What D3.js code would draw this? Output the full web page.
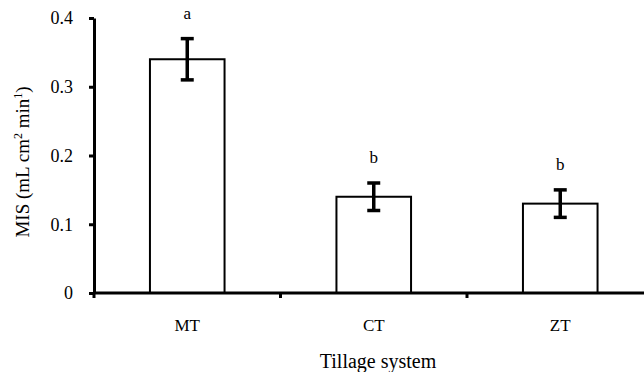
<!DOCTYPE html>
<html>
<head>
<meta charset="utf-8">
<script src="https://cdn.jsdelivr.net/npm/d3@7"></script>
<style>
  body { margin: 0; background: #fff; }
  svg text { font-family: "Liberation Serif", "Times New Roman", serif; fill: #000; }
</style>
</head>
<body>
<svg width="644" height="372"></svg>
<script>
// values
var categories = ["MT", "CT", "ZT"];
var means = [0.34, 0.14, 0.13];
var errors = [0.03, 0.02, 0.02];
var letters = ["a", "b", "b"];
var yTicks = [0, 0.1, 0.2, 0.3, 0.4];

var svg = d3.select("svg");

// note: "top" is taken by window.top, so plotTop
var plotLeft = 94, plotTop = 18, plotBottom = 293;

var x = d3.scaleBand()
    .domain(categories)
    .range([plotLeft, plotLeft + 3 * 186.5])
    .padding(0);

var y = d3.scaleLinear()
    .domain([0, 0.4])
    .range([plotBottom, plotTop]);

// bars
svg.selectAll("rect.bar")
    .data(means)
    .enter()
    .append("rect")
    .attr("class", "bar")
    .attr("x", function (d, i) { return x(categories[i]) + x.bandwidth() * 0.3; })
    .attr("width", x.bandwidth() * 0.4)
    .attr("y", function (d) { return y(d); })
    .attr("height", function (d) { return y(0) - y(d); })
    .attr("fill", "#fff")
    .attr("stroke", "#000")
    .attr("stroke-width", 2);

// error bars
var eb = svg.selectAll("g.err")
    .data(means)
    .enter()
    .append("g")
    .attr("class", "err")
    .attr("stroke", "#000")
    .attr("stroke-width", 3.5);

eb.append("line")
    .attr("x1", function (d, i) { return x(categories[i]) + x.bandwidth() / 2; })
    .attr("x2", function (d, i) { return x(categories[i]) + x.bandwidth() / 2; })
    .attr("y1", function (d, i) { return y(d + errors[i]); })
    .attr("y2", function (d, i) { return y(d - errors[i]); });

eb.each(function (d, i) {
    var cx = x(categories[i]) + x.bandwidth() / 2;
    var g = d3.select(this);
    [d + errors[i], d - errors[i]].forEach(function (v) {
        g.append("line")
            .attr("x1", cx - 6.5).attr("x2", cx + 6.5)
            .attr("y1", y(v)).attr("y2", y(v));
    });
});

// significance letters
svg.selectAll("text.letter")
    .data(letters)
    .enter()
    .append("text")
    .attr("class", "letter")
    .attr("x", function (d, i) { return x(categories[i]) + x.bandwidth() / 2; })
    .attr("y", function (d, i) { return y(means[i] + errors[i]) - 20; })
    .attr("text-anchor", "middle")
    .attr("font-size", 17)
    .text(function (d) { return d; });

// y axis
var yAxis = svg.append("g")
    .attr("transform", "translate(" + plotLeft + ",0)")
    .call(d3.axisLeft(y)
        .tickValues(yTicks)
        .tickSize(5)
        .tickSizeOuter(0)
        .tickPadding(16)
        .tickFormat(function (d) { return d === 0 ? "0" : d3.format(".1f")(d); }));
yAxis.selectAll("path, line").attr("stroke", "#000").attr("stroke-width", 3);
yAxis.selectAll("text").attr("font-size", 18).attr("font-family", "Liberation Serif");

// x axis: line plus ticks at category boundaries
var xAxis = svg.append("g");
xAxis.append("line")
    .attr("x1", plotLeft).attr("x2", 644)
    .attr("y1", y(0)).attr("y2", y(0))
    .attr("stroke", "#000").attr("stroke-width", 3);
xAxis.selectAll("line.tick")
    .data(categories)
    .enter()
    .append("line")
    .attr("class", "tick")
    .attr("x1", function (d) { return x(d); })
    .attr("x2", function (d) { return x(d); })
    .attr("y1", y(0)).attr("y2", y(0) + 5)
    .attr("stroke", "#000").attr("stroke-width", 3);
xAxis.selectAll("text")
    .data(categories)
    .enter()
    .append("text")
    .attr("x", function (d) { return x(d) + x.bandwidth() / 2; })
    .attr("y", 331)
    .attr("text-anchor", "middle")
    .attr("font-size", 17)
    .text(function (d) { return d; });

// axis titles
svg.append("text")
    .attr("x", 378)
    .attr("y", 368)
    .attr("text-anchor", "middle")
    .attr("font-size", 20)
    .text("Tillage system");

var yt = svg.append("text")
    .attr("transform", "translate(29,162) rotate(-90)")
    .attr("text-anchor", "middle")
    .attr("font-size", 19);
yt.append("tspan").text("MIS (mL cm");
yt.append("tspan").attr("font-size", 12).attr("dy", -7).text("2");
yt.append("tspan").attr("dy", 7).text(" min");
yt.append("tspan").attr("font-size", 12).attr("dy", -7).text("1");
yt.append("tspan").attr("dy", 7).text(")");
</script>
</body>
</html>
